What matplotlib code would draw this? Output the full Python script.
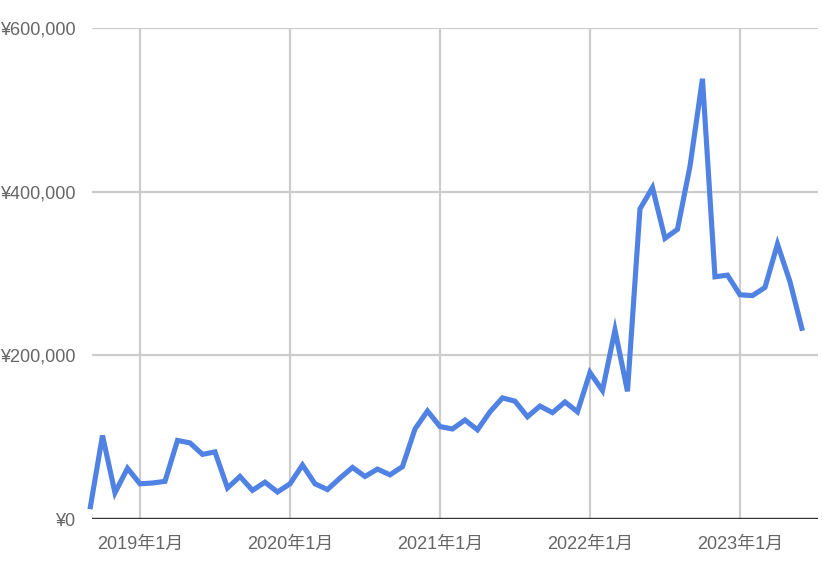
import matplotlib
matplotlib.use("Agg")
import matplotlib.pyplot as plt
import numpy as np
import pandas as pd

plt.rcParams['font.family'] = ['Liberation Sans', 'Noto Sans CJK JP', 'DejaVu Sans']

start_month = '2018-09-01'
values = [12, 102, 32, 62, 43, 44, 46, 96, 93, 79, 82, 38,
          52, 35, 45, 33, 43, 66, 43, 36, 50, 63, 52, 61,
          54, 64, 110, 132, 113, 110, 121, 109, 131, 148, 144, 125,
          138, 130, 143, 131, 179, 157, 231, 156, 379, 405, 343, 354,
          431, 538, 296, 298, 274, 273, 283, 336, 290, 230]
values = [v * 1000 for v in values]
dates = pd.date_range(start_month, periods=len(values), freq='MS')
# monthly category positions (uniform spacing per month)
x = np.arange(len(dates))

x_tick_dates = ['2019-01-01', '2020-01-01', '2021-01-01', '2022-01-01', '2023-01-01']
x_labels = ['2019年1月', '2020年1月', '2021年1月', '2022年1月', '2023年1月']
y_ticks = [0, 200000, 400000, 600000]
y_labels = ['¥0', '¥200,000', '¥400,000', '¥600,000']

x_ticks = [dates.get_loc(pd.Timestamp(d)) for d in x_tick_dates]

fig = plt.figure(figsize=(8.22, 5.65), dpi=100)
ax = fig.add_axes([0.1119, 0.0814, 0.8832, 0.869])

ax.plot(x, values, color='#4f82e3', linewidth=3.7,
        solid_joinstyle='miter', solid_capstyle='butt', zorder=3, clip_on=False)

ax.set_ylim(0, 600000)
ax.set_xlim(0.16, 58.24)

ax.set_yticks(y_ticks)
ax.set_yticklabels(y_labels)
ax.set_xticks(x_ticks)
ax.set_xticklabels(x_labels)

for s in ax.spines.values():
    s.set_visible(False)

ax.grid(True, color='#cccccc', linewidth=1.6, zorder=1)
ax.axhline(0, color='#333333', linewidth=2.4, zorder=4)

ax.tick_params(axis='both', length=0, labelsize=13, labelcolor='#666666')
ax.tick_params(axis='y', pad=12)
ax.tick_params(axis='x', pad=12)

fig.savefig('out.png', dpi=100, facecolor='white')
